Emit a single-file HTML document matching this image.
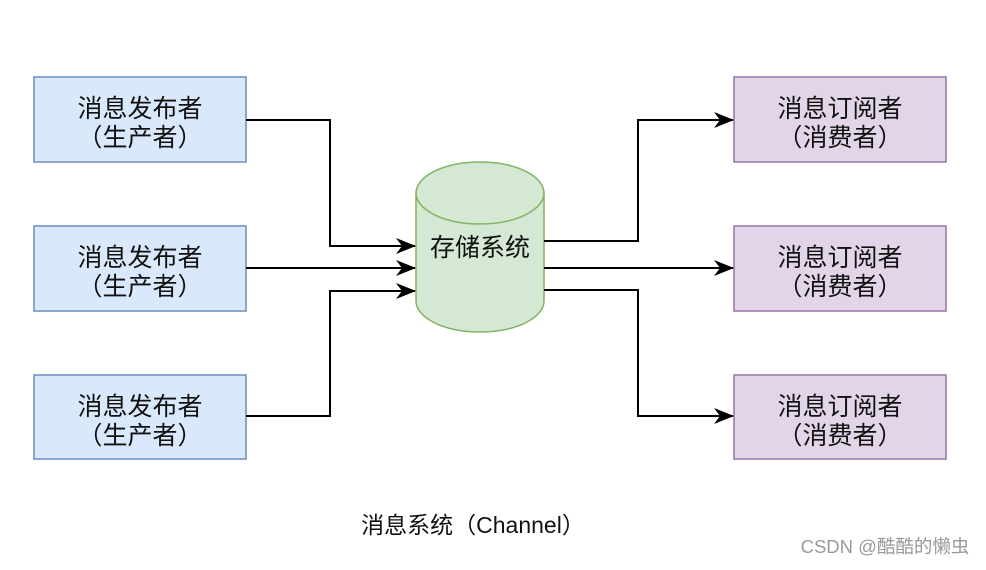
<!DOCTYPE html>
<html><head><meta charset="utf-8"><style>
body{margin:0;background:#fff;}
svg text{font-family:"Liberation Sans","Noto Sans CJK SC",sans-serif;}
</style></head><body>
<svg width="986" height="565" viewBox="0 0 986 565" xmlns="http://www.w3.org/2000/svg">
<defs>
<marker id="b" viewBox="0 0 20 16" markerWidth="20" markerHeight="16" refX="19" refY="8" orient="auto" markerUnits="userSpaceOnUse"><path d="M0,0 L20,8 L0,16 L6,8 Z" fill="#000"/></marker></defs>
<g fill="#dae8fc" stroke="#6c8ebf" stroke-width="1.5">
<rect x="34" y="77" width="212" height="85"/><rect x="34" y="226" width="212" height="85"/><rect x="34" y="375" width="212" height="84"/></g>
<g fill="#e1d5e7" stroke="#9673a6" stroke-width="1.5">
<rect x="734" y="77" width="212" height="85"/><rect x="734" y="226" width="212" height="85"/><rect x="734" y="375" width="212" height="84"/></g>
<g font-size="25" fill="#111" text-anchor="middle">
<text x="140" y="117">消息发布者</text><text x="140" y="146">（生产者）</text>
<text x="140" y="266">消息发布者</text><text x="140" y="295">（生产者）</text>
<text x="140" y="415">消息发布者</text><text x="140" y="444">（生产者）</text>
<text x="840" y="117">消息订阅者</text><text x="840" y="146">（消费者）</text>
<text x="840" y="266">消息订阅者</text><text x="840" y="295">（消费者）</text>
<text x="840" y="415">消息订阅者</text><text x="840" y="444">（消费者）</text>
</g>
<path d="M416,193 L416,301 A64,31 0 0 0 544,301 L544,193 A64,31 0 0 0 416,193 Z" fill="#d5e8d4" stroke="#82b366" stroke-width="1.5"/>
<path d="M416,193 A64,31 0 0 0 544,193" fill="none" stroke="#82b366" stroke-width="1.5"/>
<text x="480" y="256" font-size="25" fill="#111" text-anchor="middle">存储系统</text>
<g fill="none" stroke="#000" stroke-width="2" marker-end="url(#b)">
<path d="M246,120 H330 V246 H415"/>
<path d="M246,268 H415"/>
<path d="M246,416 H330 V291 H415"/>
<path d="M544,241 H638 V120 H733"/>
<path d="M544,268 H733"/>
<path d="M544,290 H638 V416 H733"/>
</g>
<text x="473" y="533" font-size="23" fill="#111" text-anchor="middle">消息系统（Channel）</text>
<text x="885" y="553" font-size="18.5" fill="#999" text-anchor="middle">CSDN @酷酷的懒虫</text>
</svg>
</body></html>
